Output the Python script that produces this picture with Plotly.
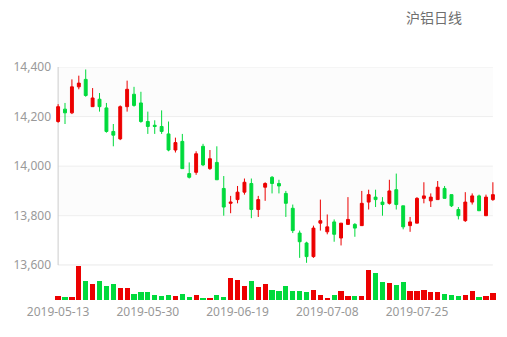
import pandas as pd
import plotly.graph_objects as go

# Trading calendar: weekdays from 2019-05-13, skipping the Dragon Boat holiday
holidays = ["2019-06-07"]
dates = [d.strftime("%Y-%m-%d")
         for d in pd.bdate_range("2019-05-13", "2019-08-09")
         if d.strftime("%Y-%m-%d") not in holidays]

open_ = [14180, 14230, 14215, 14320, 14350, 14240, 14270, 14235, 14140, 14110,
         14240, 14290, 14255, 14180, 14165, 14160, 14130, 14065, 14100, 13970,
         13975, 14080, 13990, 14015, 13910, 13850, 13865, 13895, 13930, 13825,
         13915, 13955, 13930, 13890, 13830, 13730, 13690, 13635, 13770, 13735,
         13775, 13710, 13765, 13765, 13760, 13855, 13875, 13855, 13850, 13905,
         13840, 13760, 13770, 13870, 13860, 13865, 13910, 13885, 13825, 13780,
         13855, 13880, 13800, 13865]
high = [14250, 14255, 14350, 14365, 14390, 14315, 14295, 14255, 14170, 14245,
        14345, 14320, 14300, 14220, 14185, 14225, 14180, 14115, 14130, 14015,
        14060, 14090, 14065, 14080, 13960, 13880, 13920, 13950, 13950, 13880,
        13935, 13960, 13945, 13900, 13845, 13740, 13695, 13760, 13865, 13805,
        13785, 13770, 13875, 13770, 13900, 13905, 13905, 13875, 13945, 13970,
        13840, 13795, 13875, 13935, 13890, 13940, 13920, 13885, 13835, 13895,
        13890, 13885, 13885, 13935]
low = [14175, 14170, 14210, 14310, 14280, 14240, 14220, 14135, 14080, 14105,
       14220, 14240, 14175, 14130, 14130, 14130, 14060, 14055, 13990, 13950,
       13965, 14000, 13985, 13945, 13800, 13810, 13850, 13885, 13790, 13795,
       13860, 13890, 13890, 13795, 13730, 13630, 13610, 13630, 13740, 13725,
       13695, 13680, 13765, 13715, 13760, 13825, 13835, 13800, 13845, 13825,
       13745, 13735, 13770, 13850, 13835, 13865, 13870, 13835, 13785, 13775,
       13845, 13820, 13800, 13860]
close = [14240, 14215, 14320, 14335, 14285, 14275, 14240, 14140, 14125, 14240,
         14310, 14245, 14180, 14160, 14160, 14140, 14065, 14095, 13990, 13955,
         14050, 14005, 14030, 13945, 13835, 13855, 13895, 13935, 13825, 13865,
         13930, 13930, 13920, 13850, 13740, 13695, 13635, 13750, 13780, 13755,
         13725, 13770, 13785, 13750, 13850, 13885, 13865, 13845, 13900, 13845,
         13755, 13775, 13870, 13880, 13875, 13915, 13870, 13840, 13800, 13855,
         13880, 13820, 13875, 13885]
volume = [28800, 21600, 21600, 249600, 139200, 117600, 139200, 105600, 115200, 88800,
          88800, 45600, 57600, 57600, 38400, 33600, 40800, 31200, 43200, 26400,
          38400, 19200, 16800, 38400, 24000, 160800, 151200, 105600, 139200, 96000,
          115200, 76800, 69600, 103200, 69600, 64800, 62400, 76800, 36000, 19200,
          38400, 69600, 28800, 31200, 28800, 218400, 196800, 134400, 124800, 110400,
          129600, 67200, 69600, 74400, 57600, 57600, 43200, 38400, 33600, 40800,
          64800, 24000, 31200, 52800]

price_ticks = [13600, 13800, 14000, 14200, 14400]
label_every = 13

UP = "#ec0000"
DOWN = "#00da3c"
TICK_FONT = dict(family="Noto Sans, sans-serif", size=12, color="#999999")

pos = list(range(len(dates)))
bar_colors = [UP if c >= o else DOWN for o, c in zip(open_, close)]
last = pos[-1]

fig = go.Figure()

fig.add_trace(go.Candlestick(
    x=pos, open=open_, high=high, low=low, close=close,
    increasing=dict(line=dict(color=UP, width=1), fillcolor=UP),
    decreasing=dict(line=dict(color=DOWN, width=1), fillcolor=DOWN),
    whiskerwidth=0, xaxis="x", yaxis="y", showlegend=False,
    hoverinfo="x+y", text=dates,
))

fig.add_trace(go.Bar(
    x=pos, y=volume, marker=dict(color=bar_colors, line=dict(width=0)),
    width=0.76, xaxis="x2", yaxis="y2", showlegend=False,
))

# alternating split bands, grid lines and axis lines of the price panel
shapes = []
for k in range(len(price_ticks) - 1):
    if k % 2 == 1:
        shapes.append(dict(type="rect", xref="x", yref="y", layer="below",
                           x0=0, x1=last, y0=price_ticks[k], y1=price_ticks[k + 1],
                           fillcolor="#fcfcfc", line=dict(width=0)))
for t in price_ticks[1:]:
    shapes.append(dict(type="line", xref="x", yref="y", layer="below",
                       x0=0, x1=last, y0=t, y1=t,
                       line=dict(color="#eeeeee", width=1)))
shapes.append(dict(type="line", xref="x", yref="y", layer="below",
                   x0=0, x1=last, y0=price_ticks[0], y1=price_ticks[0],
                   line=dict(color="#cccccc", width=1)))
shapes.append(dict(type="line", xref="x", yref="y", layer="below",
                   x0=0, x1=0, y0=price_ticks[0], y1=price_ticks[-1],
                   line=dict(color="#cccccc", width=1)))

xr = [-0.45, last + 0.45]

fig.update_layout(
    width=507, height=337,
    margin=dict(l=55, r=11, t=67, b=37),
    paper_bgcolor="white", plot_bgcolor="white",
    boxgap=0.4,
    bargap=0,
    title=dict(text="沪铝日线", x=434 / 507, xanchor="center",
               y=1 - 18.5 / 337, yanchor="middle",
               font=dict(family="Noto Sans CJK SC, sans-serif", size=14, color="#6e6e6e")),
    xaxis=dict(range=xr, domain=[0, 1], anchor="y", showgrid=False, zeroline=False,
               showticklabels=False, rangeslider=dict(visible=False), showline=False),
    xaxis2=dict(range=xr, domain=[0, 1], anchor="y2", matches="x", showgrid=False,
                zeroline=False, showline=False,
                tickmode="array", tickvals=pos[::label_every],
                ticktext=dates[::label_every], tickfont=TICK_FONT, ticks="",
                ticklabelstandoff=3),
    yaxis=dict(domain=[0.149, 1], range=[price_ticks[0], price_ticks[-1]],
               tickmode="array", tickvals=price_ticks, tickformat=",",
               showgrid=False, zeroline=False, showline=False,
               tickfont=TICK_FONT, ticks="", ticklabelstandoff=3),
    yaxis2=dict(domain=[0, 0.147], range=[0, max(volume)], showgrid=False,
                zeroline=False, showline=False, showticklabels=False),
)
fig.update_layout(shapes=shapes)

fig.write_html("out.html")
